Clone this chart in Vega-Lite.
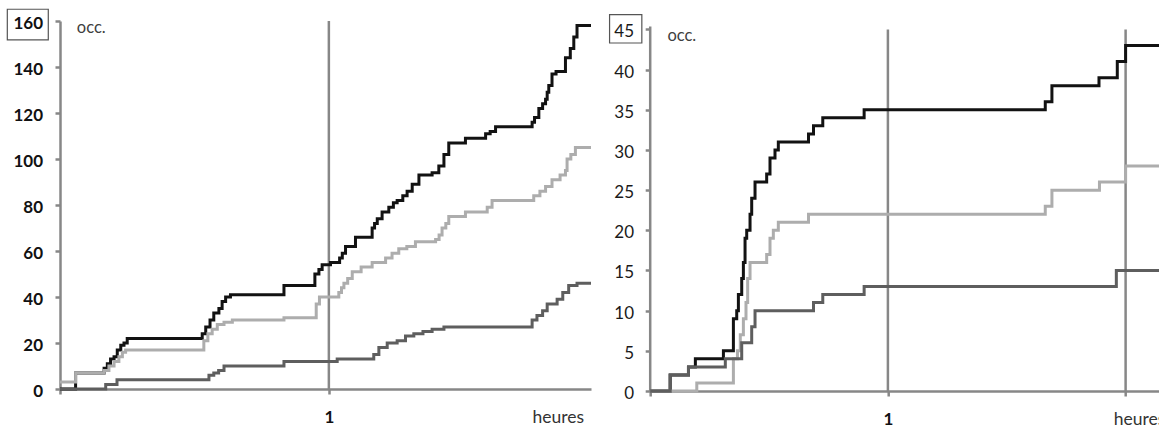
{
  "$schema": "https://vega.github.io/schema/vega-lite/v6.json",
  "padding": {"left": 4, "top": 6, "right": -12, "bottom": 0},
  "background": "white",
  "config": {"view": {"stroke": null}, "font": "Lato"},
  "spacing": 9.2,
  "datasets": {
    "lines": [
      {"p":"L","s":"k","t":0,"v":0},{"p":"L","s":"k","t":0.058,"v":7},{"p":"L","s":"k","t":0.164,"v":9},{"p":"L","s":"k","t":0.176,"v":11},{"p":"L","s":"k","t":0.188,"v":13},{"p":"L","s":"k","t":0.201,"v":14},{"p":"L","s":"k","t":0.213,"v":17},{"p":"L","s":"k","t":0.226,"v":19},{"p":"L","s":"k","t":0.238,"v":20},{"p":"L","s":"k","t":0.25,"v":22},{"p":"L","s":"k","t":0.529,"v":24},{"p":"L","s":"k","t":0.542,"v":27},{"p":"L","s":"k","t":0.558,"v":30},{"p":"L","s":"k","t":0.572,"v":33},{"p":"L","s":"k","t":0.591,"v":35},{"p":"L","s":"k","t":0.603,"v":38},{"p":"L","s":"k","t":0.616,"v":40},{"p":"L","s":"k","t":0.634,"v":41},{"p":"L","s":"k","t":0.833,"v":45},{"p":"L","s":"k","t":0.948,"v":50},{"p":"L","s":"k","t":0.963,"v":52},{"p":"L","s":"k","t":0.975,"v":54},{"p":"L","s":"k","t":1.006,"v":55},{"p":"L","s":"k","t":1.04,"v":57},{"p":"L","s":"k","t":1.05,"v":59},{"p":"L","s":"k","t":1.062,"v":62},{"p":"L","s":"k","t":1.099,"v":66},{"p":"L","s":"k","t":1.161,"v":70},{"p":"L","s":"k","t":1.17,"v":72},{"p":"L","s":"k","t":1.18,"v":74},{"p":"L","s":"k","t":1.198,"v":77},{"p":"L","s":"k","t":1.223,"v":79},{"p":"L","s":"k","t":1.24,"v":81},{"p":"L","s":"k","t":1.254,"v":82},{"p":"L","s":"k","t":1.275,"v":84},{"p":"L","s":"k","t":1.291,"v":86},{"p":"L","s":"k","t":1.31,"v":89},{"p":"L","s":"k","t":1.335,"v":93},{"p":"L","s":"k","t":1.384,"v":94},{"p":"L","s":"k","t":1.409,"v":97},{"p":"L","s":"k","t":1.428,"v":102},{"p":"L","s":"k","t":1.446,"v":107},{"p":"L","s":"k","t":1.508,"v":109},{"p":"L","s":"k","t":1.583,"v":111},{"p":"L","s":"k","t":1.6,"v":112},{"p":"L","s":"k","t":1.62,"v":114},{"p":"L","s":"k","t":1.756,"v":116},{"p":"L","s":"k","t":1.765,"v":118},{"p":"L","s":"k","t":1.781,"v":122},{"p":"L","s":"k","t":1.795,"v":124},{"p":"L","s":"k","t":1.806,"v":126},{"p":"L","s":"k","t":1.812,"v":129},{"p":"L","s":"k","t":1.818,"v":132},{"p":"L","s":"k","t":1.83,"v":137},{"p":"L","s":"k","t":1.845,"v":138},{"p":"L","s":"k","t":1.88,"v":144},{"p":"L","s":"k","t":1.898,"v":148},{"p":"L","s":"k","t":1.911,"v":153},{"p":"L","s":"k","t":1.923,"v":158},{"p":"L","s":"k","t":1.975,"v":158},
      {"p":"L","s":"g","t":0,"v":3},{"p":"L","s":"g","t":0.058,"v":7},{"p":"L","s":"g","t":0.164,"v":8},{"p":"L","s":"g","t":0.182,"v":10},{"p":"L","s":"g","t":0.201,"v":12},{"p":"L","s":"g","t":0.219,"v":14},{"p":"L","s":"g","t":0.232,"v":16},{"p":"L","s":"g","t":0.244,"v":17},{"p":"L","s":"g","t":0.535,"v":21},{"p":"L","s":"g","t":0.55,"v":24},{"p":"L","s":"g","t":0.566,"v":26},{"p":"L","s":"g","t":0.585,"v":28},{"p":"L","s":"g","t":0.61,"v":29},{"p":"L","s":"g","t":0.641,"v":30},{"p":"L","s":"g","t":0.833,"v":31},{"p":"L","s":"g","t":0.953,"v":37},{"p":"L","s":"g","t":0.965,"v":40},{"p":"L","s":"g","t":1.037,"v":42},{"p":"L","s":"g","t":1.047,"v":44},{"p":"L","s":"g","t":1.056,"v":46},{"p":"L","s":"g","t":1.07,"v":48},{"p":"L","s":"g","t":1.087,"v":51},{"p":"L","s":"g","t":1.12,"v":53},{"p":"L","s":"g","t":1.161,"v":55},{"p":"L","s":"g","t":1.211,"v":57},{"p":"L","s":"g","t":1.235,"v":59},{"p":"L","s":"g","t":1.26,"v":61},{"p":"L","s":"g","t":1.29,"v":62},{"p":"L","s":"g","t":1.322,"v":64},{"p":"L","s":"g","t":1.397,"v":65},{"p":"L","s":"g","t":1.41,"v":67},{"p":"L","s":"g","t":1.421,"v":70},{"p":"L","s":"g","t":1.435,"v":72},{"p":"L","s":"g","t":1.446,"v":75},{"p":"L","s":"g","t":1.508,"v":77},{"p":"L","s":"g","t":1.589,"v":79},{"p":"L","s":"g","t":1.607,"v":82},{"p":"L","s":"g","t":1.762,"v":84},{"p":"L","s":"g","t":1.785,"v":86},{"p":"L","s":"g","t":1.806,"v":88},{"p":"L","s":"g","t":1.83,"v":91},{"p":"L","s":"g","t":1.86,"v":93},{"p":"L","s":"g","t":1.88,"v":95},{"p":"L","s":"g","t":1.886,"v":100},{"p":"L","s":"g","t":1.9,"v":102},{"p":"L","s":"g","t":1.917,"v":105},{"p":"L","s":"g","t":1.975,"v":105},
      {"p":"L","s":"d","t":0,"v":0},{"p":"L","s":"d","t":0.17,"v":2},{"p":"L","s":"d","t":0.212,"v":4},{"p":"L","s":"d","t":0.554,"v":6},{"p":"L","s":"d","t":0.572,"v":7},{"p":"L","s":"d","t":0.59,"v":8},{"p":"L","s":"d","t":0.61,"v":10},{"p":"L","s":"d","t":0.833,"v":12},{"p":"L","s":"d","t":1.031,"v":13},{"p":"L","s":"d","t":1.167,"v":15},{"p":"L","s":"d","t":1.186,"v":18},{"p":"L","s":"d","t":1.217,"v":20},{"p":"L","s":"d","t":1.254,"v":21},{"p":"L","s":"d","t":1.285,"v":23},{"p":"L","s":"d","t":1.316,"v":24},{"p":"L","s":"d","t":1.35,"v":25},{"p":"L","s":"d","t":1.384,"v":26},{"p":"L","s":"d","t":1.428,"v":27},{"p":"L","s":"d","t":1.756,"v":30},{"p":"L","s":"d","t":1.774,"v":32},{"p":"L","s":"d","t":1.795,"v":34},{"p":"L","s":"d","t":1.812,"v":37},{"p":"L","s":"d","t":1.849,"v":39},{"p":"L","s":"d","t":1.87,"v":42},{"p":"L","s":"d","t":1.892,"v":45},{"p":"L","s":"d","t":1.923,"v":46},{"p":"L","s":"d","t":1.975,"v":46},
      {"p":"R","s":"k","t":0,"v":0},{"p":"R","s":"k","t":0.084,"v":2},{"p":"R","s":"k","t":0.161,"v":3},{"p":"R","s":"k","t":0.19,"v":4},{"p":"R","s":"k","t":0.308,"v":5},{"p":"R","s":"k","t":0.35,"v":9},{"p":"R","s":"k","t":0.364,"v":10},{"p":"R","s":"k","t":0.371,"v":12},{"p":"R","s":"k","t":0.385,"v":14},{"p":"R","s":"k","t":0.392,"v":16},{"p":"R","s":"k","t":0.399,"v":19},{"p":"R","s":"k","t":0.406,"v":20},{"p":"R","s":"k","t":0.42,"v":22},{"p":"R","s":"k","t":0.427,"v":24},{"p":"R","s":"k","t":0.441,"v":26},{"p":"R","s":"k","t":0.49,"v":27},{"p":"R","s":"k","t":0.504,"v":29},{"p":"R","s":"k","t":0.525,"v":30},{"p":"R","s":"k","t":0.539,"v":31},{"p":"R","s":"k","t":0.666,"v":32},{"p":"R","s":"k","t":0.687,"v":33},{"p":"R","s":"k","t":0.726,"v":34},{"p":"R","s":"k","t":0.9,"v":35},{"p":"R","s":"k","t":1.662,"v":36},{"p":"R","s":"k","t":1.69,"v":38},{"p":"R","s":"k","t":1.888,"v":39},{"p":"R","s":"k","t":1.965,"v":41},{"p":"R","s":"k","t":2.0,"v":43},{"p":"R","s":"k","t":2.196,"v":43},
      {"p":"R","s":"g","t":0,"v":0},{"p":"R","s":"g","t":0.196,"v":1},{"p":"R","s":"g","t":0.35,"v":4},{"p":"R","s":"g","t":0.367,"v":5},{"p":"R","s":"g","t":0.379,"v":7},{"p":"R","s":"g","t":0.392,"v":9},{"p":"R","s":"g","t":0.403,"v":11},{"p":"R","s":"g","t":0.41,"v":14},{"p":"R","s":"g","t":0.42,"v":16},{"p":"R","s":"g","t":0.49,"v":17},{"p":"R","s":"g","t":0.504,"v":19},{"p":"R","s":"g","t":0.518,"v":20},{"p":"R","s":"g","t":0.539,"v":21},{"p":"R","s":"g","t":0.666,"v":22},{"p":"R","s":"g","t":1.662,"v":23},{"p":"R","s":"g","t":1.69,"v":25},{"p":"R","s":"g","t":1.89,"v":26},{"p":"R","s":"g","t":2.0,"v":28},{"p":"R","s":"g","t":2.196,"v":28},
      {"p":"R","s":"d","t":0,"v":0},{"p":"R","s":"d","t":0.084,"v":2},{"p":"R","s":"d","t":0.161,"v":3},{"p":"R","s":"d","t":0.316,"v":4},{"p":"R","s":"d","t":0.385,"v":6},{"p":"R","s":"d","t":0.427,"v":8},{"p":"R","s":"d","t":0.441,"v":10},{"p":"R","s":"d","t":0.687,"v":11},{"p":"R","s":"d","t":0.726,"v":12},{"p":"R","s":"d","t":0.9,"v":13},{"p":"R","s":"d","t":1.961,"v":15},{"p":"R","s":"d","t":2.196,"v":15}
    ],
    "rules": [
      {"p":"L","t":1,"lo":0,"hi":160},
      {"p":"R","t":1,"lo":0,"hi":45},
      {"p":"R","t":2,"lo":0,"hi":45},
      {"p":"R","t":0,"lo":0,"hi":45.35}
    ],
    "boxes": [
      {"p":"L","t":0,"v":160},
      {"p":"R","t":0,"v":45}
    ]
  },
  "hconcat": [
    {
      "width": 531,
      "height": 368,
      "encoding": {
        "x": {"field": "t", "type": "quantitative", "scale": {"domain": [0, 1.975], "nice": false, "zero": false},
          "axis": {"values": [0, 1], "labelExpr": "datum.value == 1 ? '1' : ''", "grid": false,
            "domainColor": "#878787", "domainWidth": 2.5, "tickColor": "#878787", "tickWidth": 2.5, "tickSize": 5,
            "labelFont": "Lato", "labelFontSize": 17, "labelFontWeight": "bold", "labelColor": "#111111",
            "labelBaseline": "alphabetic", "labelPadding": 28.3, "labelFlush": false, "labelOverlap": false,
            "title": "heures", "titleX": 472, "titleY": 33.3, "titleAlign": "left", "titleAnchor": "start", "titleBaseline": "alphabetic",
            "titleFont": "Lato", "titleFontSize": 17.5, "titleFontWeight": "normal", "titleColor": "#333333"}},
        "y": {"field": "v", "type": "quantitative", "scale": {"domain": [0, 160], "nice": false},
          "axis": {"values": [0, 20, 40, 60, 80, 100, 120, 140, 160], "grid": false,
            "domainColor": "#878787", "domainWidth": 2.5, "tickColor": "#878787", "tickWidth": 2.5, "tickSize": 5,
            "labelFont": "Lato", "labelFontSize": 17, "labelFontWeight": "bold", "labelColor": "#111111",
            "labelPadding": 12.5, "labelOffset": 2.5, "labelOverlap": false, "labelFlush": false,
            "title": "occ.", "titleAngle": 0, "titleX": 16.3, "titleY": 11.6, "titleAlign": "left", "titleBaseline": "alphabetic",
            "titleFont": "Lato", "titleFontSize": 16.5, "titleFontWeight": "normal", "titleColor": "#404040"}}
      },
      "layer": [
        {
          "data": {"name": "rules"},
          "transform": [{"filter": "datum.p == 'L'"}],
          "mark": {"type": "rule", "color": "#878787", "strokeWidth": 2.5},
          "encoding": {"y": {"field": "lo", "type": "quantitative"}, "y2": {"field": "hi"}}
        },
        {
          "data": {"name": "lines"},
          "transform": [{"filter": "datum.p == 'L'"}],
          "mark": {"type": "line", "interpolate": "step-after", "strokeWidth": 3},
          "encoding": {
            "color": {"field": "s", "type": "nominal", "scale": {"domain": ["k", "g", "d"], "range": ["#121212", "#adadad", "#5e5e5e"]}, "legend": null}
          }
        },
        {
          "data": {"name": "boxes"},
          "transform": [{"filter": "datum.p == 'L'"}],
          "mark": {"type": "point", "shape": "M-1.335,-1H1.335V1H-1.335Z", "size": 942, "filled": false, "stroke": "#555555", "strokeWidth": 1.2, "opacity": 1, "xOffset": -32.2, "yOffset": 3.6}
        }
      ]
    },
    {
      "width": 522,
      "height": 370,
      "encoding": {
        "x": {"field": "t", "type": "quantitative", "scale": {"domain": [0, 2.196], "nice": false, "zero": false},
          "axis": {"values": [0, 1, 2], "labelExpr": "datum.value == 1 ? '1' : ''", "grid": false,
            "domainColor": "#878787", "domainWidth": 2.5, "tickColor": "#878787", "tickWidth": 2.5, "tickSize": 5,
            "labelFont": "Lato", "labelFontSize": 17, "labelFontWeight": "bold", "labelColor": "#111111",
            "labelBaseline": "alphabetic", "labelPadding": 28, "labelFlush": false, "labelOverlap": false,
            "title": "heures", "titleX": 463, "titleY": 33, "titleAlign": "left", "titleAnchor": "start", "titleBaseline": "alphabetic",
            "titleFont": "Lato", "titleFontSize": 17.5, "titleFontWeight": "normal", "titleColor": "#333333"}},
        "y": {"field": "v", "type": "quantitative", "scale": {"domain": [0, 46.05], "nice": false},
          "axis": {"values": [0, 5, 10, 15, 20, 25, 30, 35, 40, 45], "grid": false, "domain": false,
            "tickColor": "#878787", "tickWidth": 2.5, "tickSize": 5,
            "labelFont": "Lato", "labelFontSize": 17, "labelFontWeight": "normal", "labelColor": "#1a1a1a",
            "labelPadding": 11.7, "labelOffset": 2.5, "labelOverlap": false, "labelFlush": false,
            "title": "occ.", "titleAngle": 0, "titleX": 16.7, "titleY": 19, "titleAlign": "left", "titleBaseline": "alphabetic",
            "titleFont": "Lato", "titleFontSize": 16.5, "titleFontWeight": "normal", "titleColor": "#404040"}}
      },
      "layer": [
        {
          "data": {"name": "rules"},
          "transform": [{"filter": "datum.p == 'R'"}],
          "mark": {"type": "rule", "color": "#878787", "strokeWidth": 2.5},
          "encoding": {"y": {"field": "lo", "type": "quantitative"}, "y2": {"field": "hi"}}
        },
        {
          "data": {"name": "lines"},
          "transform": [{"filter": "datum.p == 'R'"}],
          "mark": {"type": "line", "interpolate": "step-after", "strokeWidth": 3},
          "encoding": {
            "color": {"field": "s", "type": "nominal", "scale": {"domain": ["k", "g", "d"], "range": ["#121212", "#adadad", "#5e5e5e"]}, "legend": null}
          }
        },
        {
          "data": {"name": "boxes"},
          "transform": [{"filter": "datum.p == 'R'"}],
          "mark": {"type": "point", "shape": "M-1.14,-1H1.14V1H-1.14Z", "size": 801, "filled": false, "stroke": "#555555", "strokeWidth": 1.2, "opacity": 1, "xOffset": -24.5, "yOffset": -0.6}
        }
      ]
    }
  ]
}
